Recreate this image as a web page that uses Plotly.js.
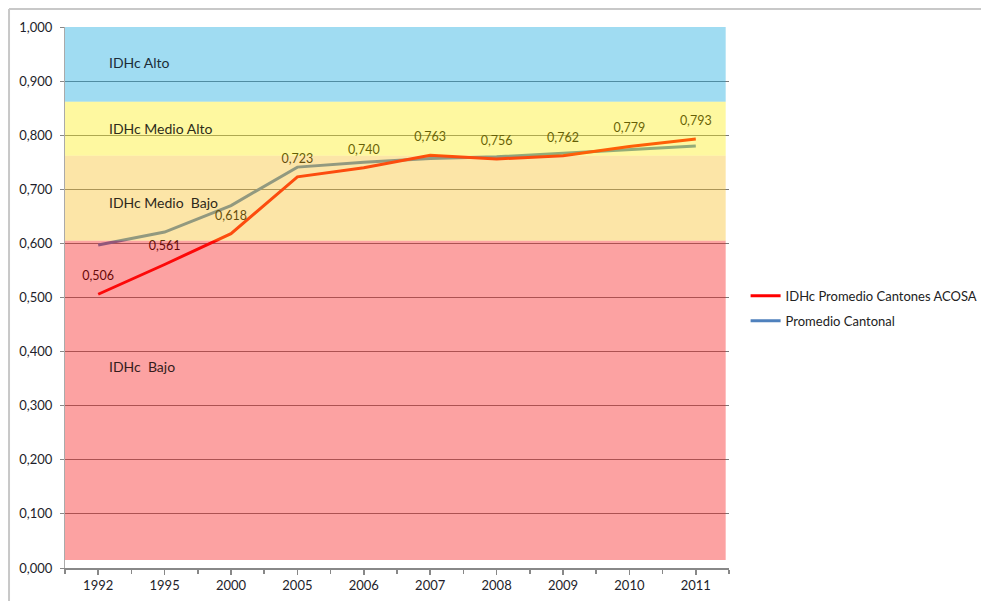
<!DOCTYPE html>
<html>
<head>
<meta charset="utf-8">
<script src="https://cdn.plot.ly/plotly-3.0.1.min.js"></script>
<style>html,body{margin:0;padding:0;background:#fff;}#chart{width:981px;height:601px;}</style>
</head>
<body>
<div id="chart"></div>
<script>
// ---- data ----
const years = ['1992','1995','2000','2005','2006','2007','2008','2009','2010','2011'];
const acosa = [0.506,0.561,0.618,0.723,0.740,0.763,0.756,0.762,0.779,0.793];
const cantonal = [0.597,0.621,0.670,0.741,0.750,0.757,0.760,0.767,0.774,0.780];
const seriesNames = ['IDHc Promedio Cantones ACOSA','Promedio Cantonal'];
// band limits (IDHc classes)
const bandNames = ['IDHc\u00a0Alto','IDHc Medio\u00a0Alto','IDHc Medio\u00a0\u00a0Bajo','IDHc\u00a0\u00a0Bajo'];
const bandLow  = [0.862,0.762,0.605,0.015];
const bandHigh = [1.000,0.862,0.762,0.605];
const bandLabelY = [0.935,0.813,0.675,0.373];

const idx = years.map((_, i) => i);
const FONT = 'Lato, "Open Sans", sans-serif';

const bandColors = ['rgba(17,167,222,0.4)','rgba(252,238,17,0.4)','rgba(247,190,35,0.4)','rgba(247,22,22,0.4)'];
const bandTextColors = ['#1c2c38','#2e2c1a','#2e281a','#341c1c'];

const acosaTrace = {
  x: idx, y: acosa, name: seriesNames[0], type: 'scatter', mode: 'lines+markers+text',
  line: {color: '#ff0000', width: 3},
  marker: {size: 16, color: 'rgba(0,0,0,0)'},
  text: acosa, texttemplate: '%{y:.3f}', textposition: 'top center',
  textfont: {family: FONT, size: 12.5, color: '#000000'},
  legendgroup: 'a', legendrank: 1, hoverinfo: 'skip'
};
const cantonalTrace = {
  x: idx, y: cantonal, name: seriesNames[1], type: 'scatter', mode: 'lines',
  line: {color: '#4f81bd', width: 3},
  legendgroup: 'b', legendrank: 2, hoverinfo: 'skip'
};
const data = [cantonalTrace, acosaTrace];

const shapes = bandNames.map((n, i) => ({
  type: 'rect', xref: 'paper', yref: 'y', x0: 0, x1: 0.995,
  y0: bandLow[i], y1: bandHigh[i], fillcolor: bandColors[i],
  line: {width: 0}, layer: 'above'
}));
// outer frame (top and left)
shapes.push({type:'line', xref:'paper', yref:'paper', x0:-0.0843, x1:1.4, y0:1.0333, y1:1.0333, line:{color:'#c8c8c8', width:2}});
shapes.push({type:'line', xref:'paper', yref:'paper', x0:-0.0843, x1:-0.0843, y0:-0.07, y1:1.0333, line:{color:'#c8c8c8', width:2}});

const annotations = bandNames.map((n, i) => ({
  text: n, xref: 'paper', yref: 'y', x: 0.064, y: bandLabelY[i],
  xanchor: 'left', yanchor: 'middle', showarrow: false,
  font: {family: FONT, size: 14, color: bandTextColors[i]}
}));

const boundaries = [];
for (let i = 0; i <= years.length; i++) boundaries.push(i - 0.5);

const layout = {
  width: 981, height: 601,
  margin: {l: 65, r: 252, t: 27, b: 33, autoexpand: false},
  paper_bgcolor: '#ffffff', plot_bgcolor: '#ffffff',
  separators: ',.',
  font: {family: FONT, size: 13, color: '#222'},
  xaxis: {
    range: [-0.5, 9.5], tickmode: 'array', tickvals: idx, ticktext: years,
    showgrid: false, zeroline: false, showline: true, linecolor: '#888', linewidth: 1.5,
    ticks: 'outside', ticklen: 5, tickcolor: '#888', tickwidth: 1.5,
    minor: {tickmode: 'array', tickvals: boundaries, ticks: 'outside', ticklen: 4, tickcolor: '#888', tickwidth: 1.5, showgrid: false},
    tickfont: {family: FONT, size: 13, color: '#1e1e2a'}, fixedrange: true
  },
  yaxis: {
    range: [0, 1.0], dtick: 0.1, tick0: 0, tickformat: '.3f',
    showgrid: true, gridcolor: '#7a7a7a', gridwidth: 1, zeroline: false,
    showline: true, linecolor: '#aaa', linewidth: 1,
    ticks: 'outside', ticklen: 4, tickcolor: '#888', ticklabelstandoff: 5,
    tickfont: {family: FONT, size: 13, color: '#1e1e2a'}, fixedrange: true
  },
  showlegend: true,
  legend: {
    x: 1.025, y: 0.48, xanchor: 'left', yanchor: 'middle',
    traceorder: 'grouped', tracegroupgap: 5,
    font: {family: FONT, size: 13, color: '#222'}, itemwidth: 30,
    bgcolor: 'rgba(0,0,0,0)'
  },
  shapes: shapes,
  annotations: annotations
};

Plotly.newPlot('chart', data, layout, {displayModeBar: false, staticPlot: true});
</script>
</body>
</html>
